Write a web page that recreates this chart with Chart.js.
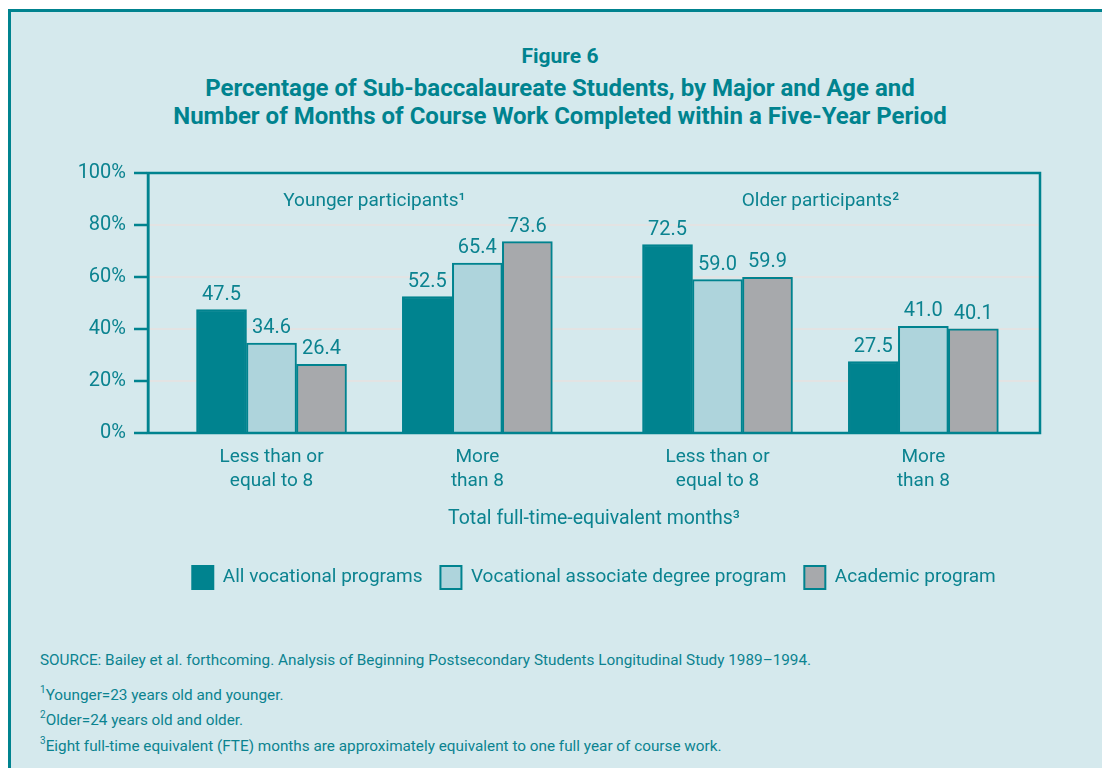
<!DOCTYPE html>
<html lang="en">
<head>
<meta charset="UTF-8" />
<title>Figure 6</title>
<script src="https://cdn.jsdelivr.net/npm/chart.js"></script>
<style>
  html, body { margin: 0; width: 1102px; height: 768px; overflow: hidden; background: #fff; }
  body { position: relative; font-family: "Roboto", sans-serif; color: #0b8390; }
  #frame { position: absolute; left: 8px; top: 9px; width: 1300px; height: 1000px; background: #d5e9ed;
           border-left: 3.5px solid #00838f; border-top: 3.5px solid #00838f; }
  #titles { position: absolute; left: 0; top: 42px; width: 1120px; text-align: center; font-weight: bold; color: #00838f; }
  #titles .fig { font-size: 21px; line-height: 28px; }
  #titles .main { font-size: 24px; line-height: 28px; margin-top: 4px; }
  #wrap { position: absolute; left: 0; top: 0; }
  #notes { position: absolute; left: 40px; top: 648px; font-size: 15.3px; color: #0b8390; }
  #notes p { margin: 0; line-height: 25.5px; }
  #notes p.src { margin-bottom: 9px; }
  #notes sup { font-size: 10px; vertical-align: 7px; line-height: 0; }
</style>
</head>
<body>
  <div id="frame"></div>
  <div id="titles">
    <div class="fig">Figure 6</div>
    <div class="main">Percentage of Sub-baccalaureate Students, by Major and Age and<br>Number of Months of Course Work Completed within a Five-Year Period</div>
  </div>
  <div id="wrap"><canvas id="grafica" width="1102" height="610"></canvas></div>
  <div id="notes">
    <p class="src">SOURCE: Bailey et al. forthcoming. Analysis of Beginning Postsecondary Students Longitudinal Study 1989–1994.</p>
    <p><sup>1</sup>Younger=23 years old and younger.</p>
    <p><sup>2</sup>Older=24 years old and older.</p>
    <p><sup>3</sup>Eight full-time equivalent (FTE) months are approximately equivalent to one full year of course work.</p>
  </div>

  <script>
    // datos
    const categorias = [['Less than or', 'equal to 8'], ['More', 'than 8'], ['Less than or', 'equal to 8'], ['More', 'than 8']];
    const posGrupos = [1.8, 4.8, 8.3, 11.3]; // place of each group on the x axis (0..13)
    const nombresSeries = ['All vocational programs', 'Vocational associate degree program', 'Academic program'];
    const todosVocacionales = [47.5, 52.5, 72.5, 27.5];
    const asociadoVocacional = [34.6, 65.4, 59.0, 41.0];
    const academico = [26.4, 73.6, 59.9, 40.1];
    const ticksY = [0, 20, 40, 60, 80, 100];
    const notasGrupo = ['Younger participants¹', 'Older participants²'];
    const tituloX = 'Total full-time-equivalent months³';

    const FUENTE = '"Roboto", sans-serif';
    const TEAL = '#00838f';
    const TEXTO = '#0b8390';
    const colores = ['#00838f', '#aed4dc', '#a7a9ac'];

    const puntos = vals => vals.map((v, i) => ({ x: posGrupos[i], y: v }));

    // value labels, group notes and plot frame
    const extras = {
      id: 'extras',
      afterDatasetsDraw(chart) {
        const { ctx, chartArea, scales } = chart;
        ctx.save();
        ctx.fillStyle = TEXTO;
        ctx.textAlign = 'center';
        ctx.textBaseline = 'alphabetic';
        ctx.font = '20px ' + FUENTE;
        chart.data.datasets.forEach((ds, di) => {
          chart.getDatasetMeta(di).data.forEach((bar, i) => {
            ctx.fillText(ds.data[i].y.toFixed(1), bar.x, bar.y - 10);
          });
        });
        ctx.font = '19px ' + FUENTE;
        notasGrupo.forEach((txt, g) => {
          const x = scales.x.getPixelForValue((posGrupos[g * 2] + posGrupos[g * 2 + 1]) / 2);
          ctx.fillText(txt, x, chartArea.top + 33);
        });
        ctx.strokeStyle = TEAL;
        ctx.lineWidth = 2.5;
        ctx.strokeRect(chartArea.left, chartArea.top, chartArea.right - chartArea.left, chartArea.bottom - chartArea.top);
        ctx.restore();
      }
    };

    new Chart(document.getElementById('grafica'), {
      type: 'bar',
      data: {
        datasets: [todosVocacionales, asociadoVocacional, academico].map((vals, i) => ({
          label: nombresSeries[i],
          data: puntos(vals),
          backgroundColor: colores[i],
          borderColor: TEAL,
          borderWidth: 2,
          barThickness: 50
        }))
      },
      options: {
        responsive: false,
        animation: false,
        layout: { padding: { top: 173, right: 62, left: 0, bottom: 11 } },
        scales: {
          x: {
            type: 'linear',
            min: 0,
            max: 13,
            offset: false,
            afterBuildTicks: s => { s.ticks = posGrupos.map(v => ({ value: v })); },
            afterFit: s => { s.height = 115; },
            grid: { display: false },
            border: { display: false },
            ticks: {
              padding: 4,
              autoSkip: false,
              maxRotation: 0,
              color: TEXTO,
              font: { family: FUENTE, size: 19, lineHeight: 1.26 },
              callback: (v, i) => categorias[i]
            },
            title: {
              display: true,
              text: tituloX,
              color: TEXTO,
              font: { family: FUENTE, size: 19.5, lineHeight: 1.2 },
              padding: { top: 0, bottom: 17 }
            }
          },
          y: {
            min: 0,
            max: 100,
            afterBuildTicks: s => { s.ticks = ticksY.map(v => ({ value: v })); },
            afterFit: s => { s.width = 148; },
            grid: {
              color: c => (c.tick && (c.tick.value === 0 || c.tick.value === 100)) ? 'rgba(0,0,0,0)' : '#e3e3e3',
              lineWidth: 2,
              tickColor: TEAL,
              tickLength: 14,
              tickWidth: 2.5
            },
            border: { display: true, color: TEAL, width: 2.5 },
            ticks: {
              padding: 8,
              color: TEXTO,
              font: { family: FUENTE, size: 20 },
              callback: v => v + '%'
            }
          }
        },
        plugins: {
          legend: {
            position: 'bottom',
            fullSize: false,
            labels: {
              boxWidth: 21,
              boxHeight: 23,
              padding: 18,
              color: TEXTO,
              font: { family: FUENTE, size: 19 }
            }
          },
          tooltip: { enabled: false }
        }
      },
      plugins: [extras]
    });
  </script>
</body>
</html>
